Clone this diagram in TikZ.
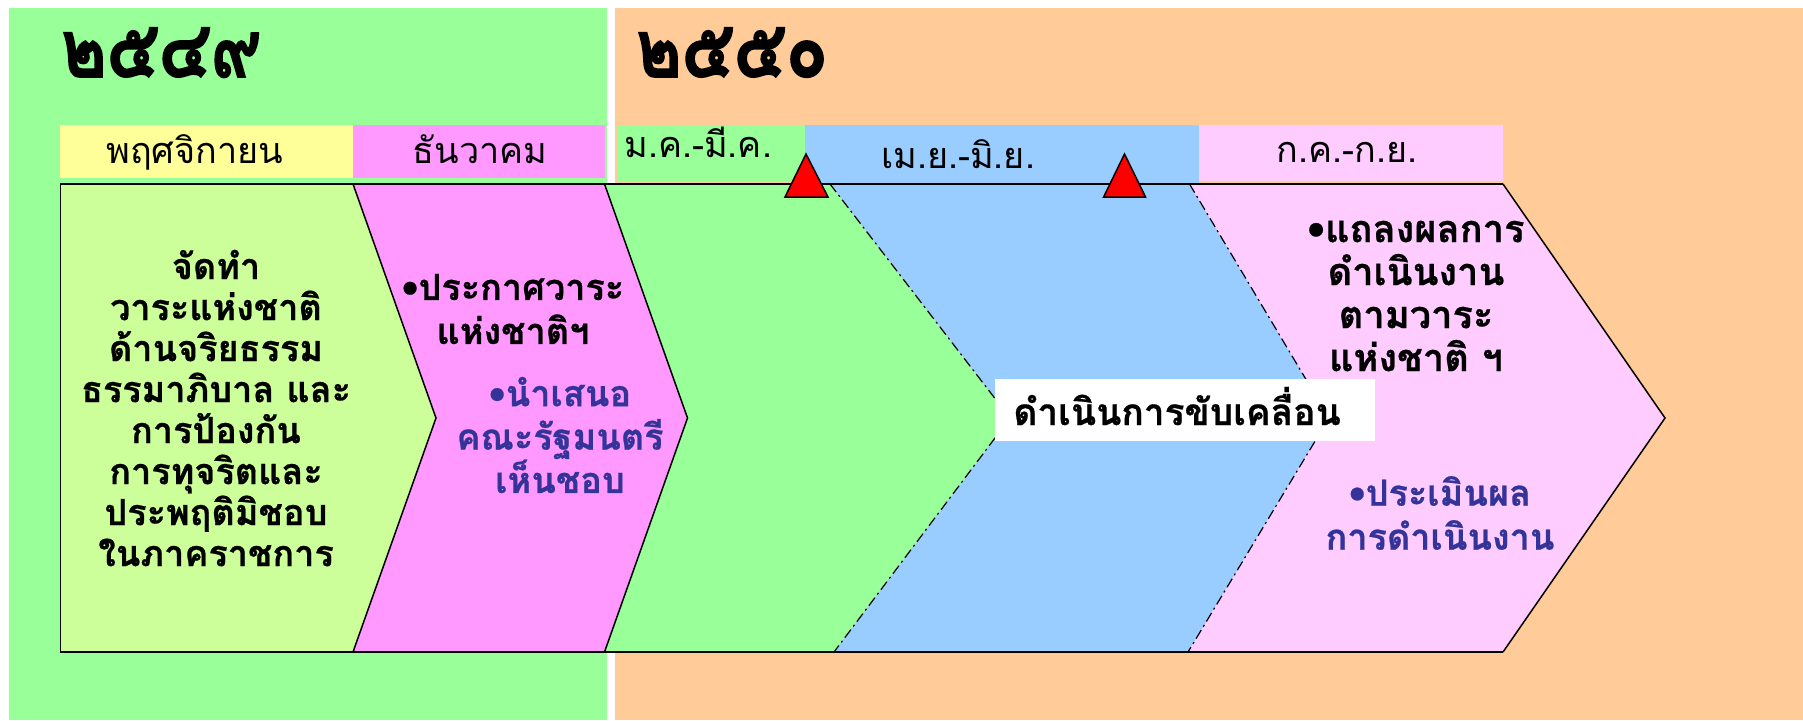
\documentclass[tikz,border=0pt]{standalone}
\usepackage{fontspec}
\newfontfamily\thaifont[Script=Thai]{Loma}
\newfontfamily\thaiheavy[Script=Thai, BoldFeatures={FakeBold=2}]{Loma}
\newfontfamily\thaimid[Script=Thai, BoldFeatures={FakeBold=0.6}]{Loma}
\definecolor{yrgreen}{HTML}{99FF99}
\definecolor{yrorange}{HTML}{FFCC99}
\definecolor{hyellow}{HTML}{FFFF99}
\definecolor{magpink}{HTML}{FF99FF}
\definecolor{limegreen}{HTML}{CCFF99}
\definecolor{skyblue}{HTML}{99CCFF}
\definecolor{lightpink}{HTML}{FFCCFF}
\definecolor{navytext}{HTML}{333399}
\tikzset{
  outl/.style={draw=black, line width=0.75pt, line join=miter},
  ddash/.style={draw=black, line width=0.6pt, dash pattern=on 5pt off 2pt on 1pt off 2pt},
  hdrtext/.style={font=\thaifont\fontsize{18}{20}\selectfont, inner sep=0pt, text=black},
  yeartext/.style={font=\thaiheavy\bfseries\fontsize{40}{44}\selectfont, inner sep=0pt, xscale=0.86, transform shape},
  bodytext/.style={font=\thaimid\bfseries\fontsize{18}{20.5}\selectfont, align=center, inner sep=0pt},
  bigtext/.style={font=\thaimid\bfseries\fontsize{19}{21.5}\selectfont, align=center, inner sep=0pt},
  marker/.style={fill=red, draw=black, line width=0.75pt, line join=miter},
}
\begin{document}
\begin{tikzpicture}[x=0.5pt, y=-0.5pt]
\useasboundingbox (0,0) rectangle (1803,720);
\fill[white] (0,0) rectangle (1803,720);
% year panels
\fill[yrgreen] (9,8) rectangle (607,720);
\fill[yrorange] (615,8) rectangle (1803,720);
\node[yeartext, anchor=base west] (y49) at (61,77) {๒๕๔๙};
\node[yeartext, anchor=base west] (y50) at (636,77) {๒๕๕๐};
% month headers
\fill[hyellow] (60,125) rectangle (353,178);
\fill[magpink] (353,125) rectangle (605,178);
\fill[yrgreen] (618,125) rectangle (805,181);
\fill[skyblue] (805,125) rectangle (1199,184);
\fill[lightpink] (1199,125) rectangle (1503,181);
\node[hdrtext, anchor=base] (m1) at (195,163) {พฤศจิกายน};
\node[hdrtext, anchor=base] (m2) at (480,163) {ธันวาคม};
\node[hdrtext, anchor=base west] (m3) at (624,157) {ม.ค.-มี.ค.};
\node[hdrtext, anchor=base] (m4) at (958,168) {เม.ย.-มิ.ย.};
\node[hdrtext, anchor=base] (m5) at (1347,162) {ก.ค.-ก.ย.};
% chevrons
\coordinate (a0) at (60.7,184); \coordinate (a1) at (60.7,652);
\coordinate (t1) at (353,184);  \coordinate (b1) at (353,652);  \coordinate (p1) at (436,418);
\coordinate (t2) at (604.5,184);\coordinate (b2) at (604.5,652);\coordinate (p2) at (687.5,418);
\coordinate (t3) at (830,184);  \coordinate (b3) at (834,652);  \coordinate (p3) at (1010,418);
\coordinate (t4) at (1189.5,184);\coordinate (b4) at (1188,652); \coordinate (p4) at (1329,418);
\coordinate (t5) at (1503,184); \coordinate (b5) at (1503,652); \coordinate (p5) at (1665,418);
\fill[limegreen] (a0) -- (t1) -- (p1) -- (b1) -- (a1) -- cycle;
\fill[magpink] (t1) -- (t2) -- (p2) -- (b2) -- (b1) -- (p1) -- cycle;
\fill[yrgreen] (t2) -- (t3) -- (p3) -- (b3) -- (b2) -- (p2) -- cycle;
\fill[skyblue] (t3) -- (t4) -- (p4) -- (b4) -- (b3) -- (p3) -- cycle;
\fill[lightpink] (t4) -- (t5) -- (p5) -- (b5) -- (b4) -- (p4) -- cycle;
\draw[ddash] (t3) -- (p3) -- (b3);
\draw[ddash] (t4) -- (p4) -- (b4);
\draw[outl] (t5) -- (a0) -- (a1) -- (b5);
\draw[outl] (t1) -- (p1) -- (b1);
\draw[outl] (t2) -- (p2) -- (b2);
\draw[outl] (t5) -- (p5) -- (b5);
% milestones
\draw[marker] (806,154) -- (828,197) -- (785,197) -- cycle;
\draw[marker] (1124.5,154) -- (1145.5,197) -- (1103.6,197) -- cycle;
% label
\fill[white] (995,379) rectangle (1375,441);
\node[bigtext, font=\thaimid\bfseries\fontsize{18.5}{21.5}\selectfont, anchor=base west] (drive) at (1013,425) {ดำเนินการขับเคลื่อน};
% texts
\node[bodytext] (c1) at (216,408) {จัดทำ\\วาระแห่งชาติ\\ด้านจริยธรรม\\ธรรมาภิบาล และ\\การป้องกัน\\การทุจริตและ\\ประพฤติมิชอบ\\ในภาคราชการ};
\node[bodytext, font=\thaimid\bfseries\fontsize{18}{22}\selectfont] (c2) at (513,309) {•ประกาศวาระ\\แห่งชาติฯ};
\node[bodytext, text=navytext, font=\thaimid\bfseries\fontsize{18}{21.7}\selectfont] (c3) at (560,435) {•นำเสนอ\\คณะรัฐมนตรี\\เห็นชอบ};
\node[bigtext] (c4) at (1416,296) {•แถลงผลการ\\ดำเนินงาน\\ตามวาระ\\แห่งชาติ ฯ};
\node[bodytext, text=navytext, font=\thaimid\bfseries\fontsize{18}{22}\selectfont] (c5) at (1440,513) {•ประเมินผล\\การดำเนินงาน};
\end{tikzpicture}
\end{document}
